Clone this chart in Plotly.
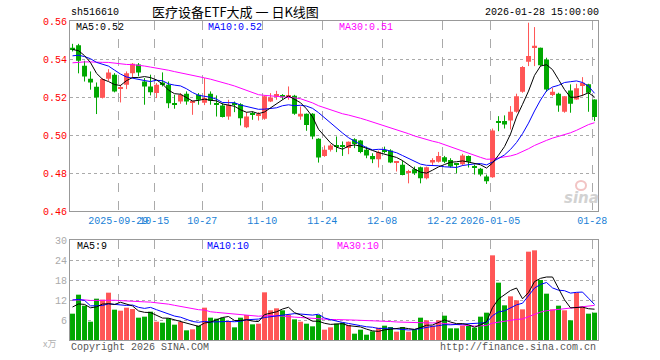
import plotly.graph_objects as go
import numpy as np

# ---------------- data ----------------
dates = (
    ["2025-09-%02d" % d for d in [17, 18, 19, 22, 23, 24, 25, 26, 29, 30]]
    + ["2025-10-%02d" % d for d in [9, 10, 13, 14, 15, 16, 17, 20, 21, 22, 23, 24, 27, 28, 29, 30, 31]]
    + ["2025-11-%02d" % d for d in [3, 4, 5, 6, 7, 10, 11, 12, 13, 14, 17, 18, 19, 20, 21, 24, 25, 26, 27, 28]]
    + ["2025-12-%02d" % d for d in [1, 2, 3, 4, 5, 8, 9, 10, 11, 12, 15, 16, 17, 18, 19, 22, 23, 24, 25, 26, 29, 30, 31]]
    + ["2026-01-%02d" % d for d in [5, 6, 7, 8, 9, 12, 13, 14, 15, 16, 19, 20, 21, 22, 23, 26, 27, 28]]
)

open_ = [0.546, 0.5472, 0.5365, 0.5297, 0.5254, 0.5197, 0.5297, 0.5318, 0.5244, 0.5265,
         0.5326, 0.5372, 0.5282, 0.5256, 0.5221, 0.5277, 0.5265, 0.5167, 0.5177, 0.5218,
         0.517, 0.5212, 0.517, 0.5218, 0.5165, 0.5156, 0.5098, 0.5165, 0.5163, 0.5042,
         0.5112, 0.5105, 0.5086, 0.5177, 0.5202, 0.5205, 0.5205, 0.5207, 0.5098, 0.5112,
         0.5112, 0.4981, 0.4891, 0.4923, 0.4943, 0.4944, 0.4932, 0.4979, 0.4972, 0.4923,
         0.4891, 0.4874, 0.4919, 0.4919, 0.4856, 0.4844, 0.4802, 0.4821, 0.4832, 0.4774,
         0.4856, 0.4861, 0.4884, 0.487, 0.4846, 0.4847, 0.4891, 0.4833, 0.4823, 0.4783,
         0.4779, 0.5072, 0.5074, 0.5077, 0.5123, 0.5228, 0.5386, 0.5463, 0.546, 0.5398,
         0.5211, 0.5218, 0.5123, 0.5235, 0.5188, 0.5258, 0.5267, 0.5188]
high = [0.548, 0.548, 0.5391, 0.5335, 0.5277, 0.530, 0.5347, 0.5326, 0.5265, 0.5335,
        0.5379, 0.5379, 0.530, 0.5318, 0.5274, 0.533, 0.5282, 0.5212, 0.5221, 0.523,
        0.5182, 0.5221, 0.530, 0.523, 0.5209, 0.5168, 0.5186, 0.5177, 0.5168, 0.5121,
        0.5125, 0.5121, 0.5209, 0.5221, 0.5233, 0.5216, 0.5256, 0.5212, 0.5151, 0.5114,
        0.5116, 0.4984, 0.4946, 0.4953, 0.4993, 0.4967, 0.4967, 0.4984, 0.4975, 0.494,
        0.4905, 0.4919, 0.494, 0.4926, 0.4858, 0.4867, 0.4818, 0.4835, 0.4835, 0.4835,
        0.4879, 0.4912, 0.4891, 0.4879, 0.4853, 0.4902, 0.4893, 0.4846, 0.4828, 0.4793,
        0.5035, 0.51, 0.5104, 0.5153, 0.5218, 0.5363, 0.5591, 0.5568, 0.546, 0.5407,
        0.5249, 0.5223, 0.5205, 0.5267, 0.527, 0.5305, 0.527, 0.5188]
low = [0.544, 0.5325, 0.5282, 0.5239, 0.5111, 0.5193, 0.5285, 0.5225, 0.5172, 0.5242,
       0.530, 0.5309, 0.516, 0.5209, 0.5195, 0.5256, 0.5142, 0.5139, 0.5165, 0.516,
       0.5107, 0.516, 0.5158, 0.516, 0.5098, 0.5093, 0.5081, 0.5121, 0.5051, 0.5037,
       0.5081, 0.5077, 0.5081, 0.5174, 0.5186, 0.5186, 0.5186, 0.5107, 0.5081, 0.5023,
       0.4979, 0.4856, 0.4886, 0.4914, 0.4911, 0.4891, 0.49, 0.4932, 0.4905, 0.4879,
       0.4853, 0.483, 0.4905, 0.4853, 0.4809, 0.4789, 0.4747, 0.4791, 0.4747, 0.4768,
       0.4844, 0.4856, 0.4853, 0.483, 0.48, 0.4839, 0.483, 0.4793, 0.4784, 0.4744,
       0.4776, 0.5021, 0.5035, 0.503, 0.5118, 0.5223, 0.5363, 0.5363, 0.5363, 0.5228,
       0.5205, 0.5123, 0.5118, 0.5118, 0.5186, 0.5205, 0.5123, 0.5074]
close = [0.545, 0.5391, 0.5309, 0.5277, 0.5198, 0.5295, 0.533, 0.523, 0.5253, 0.5326,
         0.5375, 0.533, 0.5256, 0.5226, 0.5265, 0.5268, 0.5168, 0.5163, 0.5212, 0.5177,
         0.5177, 0.5186, 0.5195, 0.5181, 0.5163, 0.5095, 0.516, 0.516, 0.5089, 0.5098,
         0.511, 0.5109, 0.5204, 0.5198, 0.5216, 0.5203, 0.521, 0.5112, 0.5112, 0.5054,
         0.4993, 0.4883, 0.4923, 0.4946, 0.494, 0.494, 0.4965, 0.4954, 0.4912, 0.4893,
         0.4874, 0.4911, 0.4916, 0.4856, 0.4858, 0.4791, 0.4805, 0.48, 0.4774, 0.4832,
         0.487, 0.4891, 0.4861, 0.4835, 0.4844, 0.4893, 0.4861, 0.4831, 0.4793, 0.4758,
         0.5025, 0.5068, 0.5056, 0.5123, 0.5205, 0.5358, 0.5416, 0.547, 0.5368, 0.524,
         0.5228, 0.5156, 0.5205, 0.5165, 0.5246, 0.5275, 0.5223, 0.5095]
volume = [7.9, 13.6, 10.3, 5.5, 12.4, 12.1, 14.2, 9.1, 8.8, 9.7,
          9.3, 6.7, 7.0, 8.5, 5.5, 5.2, 6.5, 4.6, 5.4, 2.9,
          3.2, 4.3, 9.7, 6.7, 6.4, 6.7, 5.7, 3.8, 6.7, 7.5,
          4.7, 4.9, 14.3, 8.9, 9.5, 8.9, 7.5, 6.2, 5.5, 4.9,
          4.1, 7.5, 3.1, 3.8, 4.9, 5.2, 4.5, 1.9, 3.1, 1.6,
          2.6, 3.7, 4.3, 3.9, 2.5, 3.9, 2.5, 3.1, 6.7, 5.9,
          4.3, 5.9, 7.3, 3.5, 3.5, 4.3, 4.2, 3.7, 7.0, 8.2,
          25.4, 17.2, 10.4, 13.1, 11.9, 9.2, 26.5, 26.9, 18.0, 13.9,
          9.2, 10.3, 8.9, 5.9, 14.2, 10.0, 7.9, 8.2]
# closes / volumes before the visible window (estimated from where the MA lines start)
prior_close = [0.527, 0.529, 0.528, 0.527, 0.529,
               0.534, 0.536, 0.538, 0.539, 0.540, 0.541, 0.540, 0.539, 0.540, 0.541,
               0.539, 0.538, 0.539, 0.540, 0.540,
               0.536, 0.538, 0.539, 0.539, 0.540, 0.542, 0.544, 0.546, 0.548]
prior_volume = [11, 12, 10.5, 11.5, 12, 11, 11.5, 12, 11, 11.5,
                11, 10.5, 11, 10.4, 11, 14, 15, 14.5, 14, 14.6,
                12, 13, 22, 12, 11.5, 9, 11, 10.6, 11]
tick_dates = ["2025-09-29", "2025-10-15", "2025-10-27", "2025-11-10", "2025-11-24",
              "2025-12-08", "2025-12-22", "2026-01-05", "2026-01-28"]
tick_labels = ["2025-09-29", "10-15", "10-27", "11-10", "11-24",
               "12-08", "12-22", "2026-01-05", "01-28"]

# ---------------- derived ----------------
n = len(dates)
idx = np.arange(n)
o = np.array(open_); h = np.array(high); l = np.array(low); c = np.array(close)
v = np.array(volume)
up = c >= o
RED = "#ff5656"
GREEN = "#00a800"
cols = [RED if u else GREEN for u in up]

def ma(full, w, k):
    full = np.array(full, dtype=float)
    out = np.array([full[i - w + 1:i + 1].mean() for i in range(len(full))])
    return out[k:]

fullc = prior_close + close
fullv = prior_volume + volume
k = len(prior_close)
ma5, ma10, ma30 = ma(fullc, 5, k), ma(fullc, 10, k), ma(fullc, 30, k)
vma5, vma10, vma30 = ma(fullv, 5, k), ma(fullv, 10, k), ma(fullv, 30, k)

tickpos = [dates.index(d) - 0.375 for d in tick_dates]

fig = go.Figure()

# wicks
for flag, col in [(True, RED), (False, GREEN)]:
    xs, ys = [], []
    for i in idx:
        if up[i] == flag:
            xs += [i, i, None]
            ys += [l[i], h[i], None]
    fig.add_trace(go.Scatter(x=xs, y=ys, mode="lines", line=dict(color=col, width=1),
                             xaxis="x", yaxis="y", hoverinfo="skip"))
# bodies
base = np.minimum(o, c)
hgt = np.maximum(np.abs(c - o), 0.0006)
fig.add_trace(go.Bar(x=idx, y=hgt, base=base, width=0.83, marker=dict(color=cols, line=dict(width=0)),
                     xaxis="x", yaxis="y", hoverinfo="skip"))
# MAs
for arr, col in [(ma30, "#ff00ff"), (ma10, "#0000ff"), (ma5, "#000000")]:
    fig.add_trace(go.Scatter(x=idx, y=arr, mode="lines", line=dict(color=col, width=1),
                             xaxis="x", yaxis="y", hoverinfo="skip"))
# volume
fig.add_trace(go.Bar(x=idx, y=v, width=0.83, marker=dict(color=cols, line=dict(width=0)),
                     xaxis="x2", yaxis="y2", hoverinfo="skip"))
for arr, col in [(vma30, "#ff00ff"), (vma10, "#0000ff"), (vma5, "#000000")]:
    fig.add_trace(go.Scatter(x=idx, y=arr, mode="lines", line=dict(color=col, width=1),
                             xaxis="x2", yaxis="y2", hoverinfo="skip"))

MONO = "Liberation Mono"
GRID = "#aaaaaa"
FRAME = "#999999"
xr = [-0.42, n - 0.42]
W, H = 660, 360
T, B, L, R = 21, 20, 70, 62
ph = H - T - B   # 319 -> plot area spans y 21..340

def py(pix):
    return (340 - pix) / ph

def px(pix):
    return (pix - 70) / 528

common_x = dict(range=xr, tickmode="array", tickvals=tickpos, showgrid=True, gridcolor=GRID,
                griddash="dash", gridwidth=1, zeroline=False, showline=True, linecolor=FRAME,
                linewidth=1, mirror=True, ticks="", fixedrange=True)

fig.update_layout(
    width=W, height=H,
    margin=dict(l=L, r=R, t=T, b=B, pad=0),
    paper_bgcolor="white", plot_bgcolor="white",
    showlegend=False, barmode="overlay", hovermode=False,
    xaxis=dict(**common_x, anchor="y", ticktext=tick_labels, tickangle=0,
               tickfont=dict(family=MONO, size=10, color="#1a7fd6")),
    xaxis2=dict(**common_x, anchor="y2", matches="x", showticklabels=False),
    yaxis=dict(domain=[py(211.3), 1], range=[0.46, 0.56], tickmode="array",
               tickvals=[0.46, 0.48, 0.50, 0.52, 0.54, 0.56],
               ticktext=["0.46", "0.48", "0.50", "0.52", "0.54", "0.56"],
               tickfont=dict(family=MONO, size=10, color="#ff0000"),
               showgrid=True, gridcolor=GRID, griddash="dot", zeroline=False,
               showline=True, linecolor=FRAME, mirror=True, ticks="", anchor="x", fixedrange=True),
    yaxis2=dict(domain=[0, py(240)], range=[0, 30], tickmode="array",
                tickvals=[6, 12, 18, 24, 30], ticktext=["6", "12", "18", "24", "30"],
                tickfont=dict(family=MONO, size=10, color="#aaaaaa"),
                showgrid=True, gridcolor=GRID, griddash="dot", zeroline=False,
                showline=True, linecolor=FRAME, mirror=True, ticks="", anchor="x2", fixedrange=True),
)

def ann(text, x, y, color="#000", size=10, family=MONO, xanchor="left", **kw):
    fig.add_annotation(text=text, x=x, y=y, xref="paper", yref="paper", showarrow=False,
                       xanchor=xanchor, yanchor="middle",
                       font=dict(family=family, size=size, color=color), **kw)

ann("sh516610", px(69), py(12.5), size=10)
ann("医疗设备ETF大成 一 日K线图", px(150), py(12), size=13, family="Noto Sans CJK SC")
ann("2026-01-28 15:00:00", px(601), py(12.5), size=10, xanchor="right")
ann("MA5:%.2f" % ma5[-1], px(74), py(27.5))
ann("MA10:%.2f" % ma10[-1], px(206), py(27.5), color="#0000ff")
ann("MA30:%.2f" % ma30[-1], px(337), py(27.5), color="#ff00ff")
ann("MA5:%d" % int(vma5[-1]), px(75), py(246))
ann("MA10:%d" % int(vma10[-1]), px(205), py(246), color="#0000ff")
ann("MA30:%d" % int(vma30[-1]), px(335), py(246), color="#ff00ff")
ann("x万", px(58), py(343), color="#b0b0b0", size=9, family="Noto Sans CJK SC", xanchor="right")
ann("Copyright 2026 SINA.COM", px(69), py(347), color="#555555")
ann("http://finance.sina.com.cn", px(598), py(347), color="#555555", xanchor="right")
ann("<b><i>sina</i></b>", px(581), py(198), color="#d2d2d2", size=15, family="DejaVu Sans", xanchor="center")
fig.add_shape(type="circle", xref="paper", yref="paper",
              x0=px(576), x1=px(586), y0=py(190), y1=py(181),
              line=dict(color="#f2c4c4", width=2))

fig.write_html("out.html", config={"displayModeBar": False},
               post_script="document.body.style.margin='0';document.documentElement.style.overflow='hidden';")
